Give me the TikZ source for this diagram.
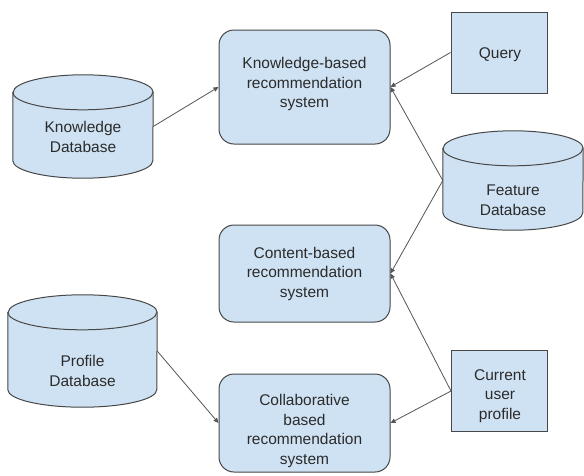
\documentclass[tikz,border=0pt]{standalone}
\usepackage{fontspec}
\setmainfont{Liberation Sans}
\usetikzlibrary{calc,arrows.meta}

\definecolor{boxfill}{HTML}{CFE2F3}
\definecolor{boxline}{HTML}{474747}
\definecolor{wire}{HTML}{555555}
\definecolor{ink}{HTML}{2B2B2B}

\tikzset{
  shapeline/.style={draw=boxline, fill=boxfill, line width=1pt},
  sysbox/.style={shapeline, rounded corners=15pt, minimum width=171pt, inner sep=0pt},
  plainbox/.style={shapeline, minimum width=96pt, minimum height=81pt, inner sep=0pt},
  canarea/.style={draw=none, inner sep=0pt},
  label text/.style={align=center, text=ink, inner sep=0pt,
    font=\fontsize{15.5}{19.5}\selectfont},
  link/.style={draw=wire, line width=0.8pt, -{Triangle[length=5pt,width=4.5pt]}},
}

% database cylinder drawn around a named (invisible) node
\newcommand\dbcan[5]{%
  \node[canarea, minimum width=#4pt, minimum height=#5pt] (#1) at (#2,#3) {};
  \path[shapeline] ($(#1.north west)+(0,17.5)$)
    -- ($(#1.south west)+(0,-17.5)$)
    arc[start angle=180, end angle=360, x radius=#4pt/2, y radius=17.5pt]
    -- ($(#1.north east)+(0,17.5)$)
    arc[start angle=0, end angle=180, x radius=#4pt/2, y radius=17.5pt]
    -- cycle;
  \draw[draw=boxline, line width=1pt] ($(#1.north west)+(0,17.5)$)
    arc[start angle=180, end angle=360, x radius=#4pt/2, y radius=17.5pt];
}

\begin{document}
\begin{tikzpicture}[x=1pt, y=-1pt]
  \useasboundingbox[fill=white] (0,0) rectangle (584,475);

  % recommendation systems
  \node[sysbox, minimum height=114pt] (kbs) at (304.5,87) {};
  \node[label text] (kbstext) at (304.5,84)
    {Knowledge-based\\recommendation\\system};
  \node[sysbox, minimum height=97pt] (cbs) at (304.5,273.5) {};
  \node[label text] (cbstext) at (304.5,273.5)
    {Content-based\\recommendation\\system};
  \node[sysbox, minimum height=98pt] (cfs) at (304.5,423) {};
  \node[label text] (cfstext) at (304.5,431)
    {Collaborative\\based\\recommendation\\system};

  % inputs
  \node[plainbox] (query) at (499,52.5) {};
  \node[label text] (querytext) at (500,55) {Query};
  \node[plainbox] (cup) at (499.5,391) {};
  \node[label text] (cuptext) at (500,396) {Current\\user\\profile};

  % databases
  \dbcan{kdb}{83}{126.5}{140}{103}
  \node[label text] (kdbtext) at (83,137) {Knowledge\\Database};
  \dbcan{fdb}{513}{180.5}{140}{99}
  \node[label text] (fdbtext) at (513,200) {Feature\\Database};
  \dbcan{pdb}{82.5}{351}{149}{112}
  \node[label text] (pdbtext) at (82.5,371) {Profile\\Database};

  % connectors
  \draw[link] (kdb.east) -- (kbs.west);
  \draw[link] (query.west) -- (kbs.east);
  \draw[link] (fdb.west) -- (kbs.east);
  \draw[link] (fdb.west) -- (cbs.east);
  \draw[link] (cup.west) -- (cbs.east);
  \draw[link] (cup.west) -- (cfs.east);
  \draw[link] (pdb.east) -- (cfs.west);
\end{tikzpicture}
\end{document}
